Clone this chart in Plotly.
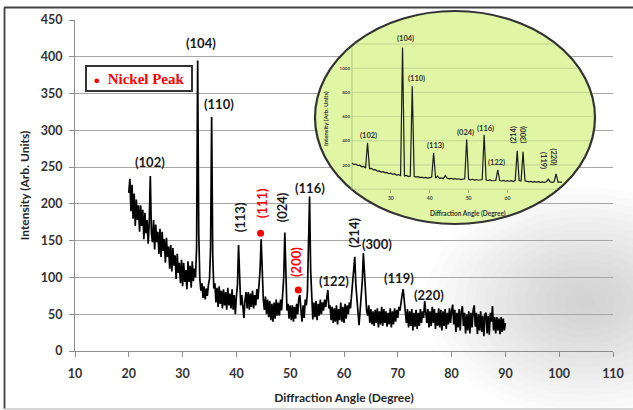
import math
import plotly.graph_objects as go

# ---------------- data ----------------
# main XRD scan: 2-theta from 20.0 to 90.0 deg in 0.2 deg steps
scan_start = 20.0
scan_step = 0.2
intensity = [
    215, 234, 190, 226, 180, 214, 170, 206, 178, 198,   # 20.0-21.8
    162, 198, 170, 192, 152, 188, 160, 178, 146, 174,   # 22.0-23.8
    238, 160, 148, 178, 138, 172, 148, 162, 132, 166,   # 24.0-25.8
    128, 162, 136, 152, 120, 154, 128, 142, 112, 144,   # 26.0-27.8
    108, 140, 116, 130, 98, 132, 106, 120, 92, 124,     # 28.0-29.8
    88, 120, 94, 110, 84, 122, 94, 116, 86, 122,        # 30.0-31.8
    95, 112, 100, 140, 395, 160, 98, 82, 92, 72,        # 32.0-33.8
    88, 70, 85, 75, 90, 98, 140, 318, 130, 85,          # 34.0-35.8
    92, 66, 86, 60, 88, 64, 82, 58, 84, 62,             # 36.0-37.8
    80, 56, 86, 62, 78, 58, 84, 56, 76, 50,             # 38.0-39.8
    74, 90, 144, 88, 62, 76, 56, 45, 70, 80,            # 40.0-41.8
    58, 80, 56, 78, 60, 82, 58, 76, 62, 84,             # 42.0-43.8
    70, 90, 110, 152, 95, 70, 56, 74, 50, 70,           # 44.0-45.8
    46, 68, 42, 64, 40, 66, 44, 70, 48, 66,             # 46.0-47.8
    48, 70, 55, 75, 100, 161, 85, 55, 64, 44,           # 48.0-49.8
    62, 42, 62, 40, 60, 44, 64, 50, 72, 76,             # 50.0-51.8
    55, 40, 62, 45, 70, 62, 80, 130, 210, 110,          # 52.0-53.8
    60, 43, 66, 46, 68, 42, 64, 48, 70, 50,             # 54.0-55.8
    66, 55, 70, 60, 72, 83, 58, 62, 42, 60,             # 56.0-57.8
    38, 58, 40, 62, 36, 57, 42, 66, 40, 60,             # 58.0-59.8
    38, 64, 44, 62, 50, 66, 58, 75, 95, 118,            # 60.0-61.8
    128, 90, 70, 50, 35, 55, 70, 95, 133, 100,          # 62.0-63.8
    72, 55, 48, 62, 38, 57, 36, 54, 34, 56,             # 64.0-65.8
    38, 58, 32, 54, 36, 60, 34, 57, 38, 54,             # 66.0-67.8
    33, 52, 36, 58, 32, 54, 36, 58, 40, 56,             # 68.0-69.8
    45, 60, 55, 68, 76, 84, 65, 52, 38, 57,             # 70.0-71.8
    32, 54, 34, 57, 28, 52, 33, 56, 30, 52,             # 72.0-73.8
    34, 57, 38, 54, 45, 68, 48, 38, 57, 32,             # 74.0-75.8
    54, 34, 60, 38, 57, 30, 52, 34, 58, 32,             # 76.0-77.8
    56, 28, 54, 34, 57, 30, 52, 36, 58, 38,             # 78.0-79.8
    55, 63, 36, 56, 26, 52, 32, 57, 28, 54,             # 80.0-81.8
    61, 34, 52, 24, 50, 28, 54, 24, 52, 32,             # 82.0-83.8
    55, 62, 33, 52, 23, 50, 28, 54, 26, 48,             # 84.0-85.8
    20, 50, 52, 24, 48, 22, 52, 40, 61, 28,             # 86.0-87.8
    46, 24, 46, 28, 44, 23, 46, 26, 44, 28,             # 88.0-89.8
    38,                                                 # 90.0
]
two_theta = [round(scan_start + i * scan_step, 1) for i in range(len(intensity))]

# nickel reflections marked with red dots
ni_angle = [44.5, 51.5]
ni_intensity = [160, 83]

# inset scan: 2-theta from 20.0 to 74.0 deg in 0.5 deg steps
inset_start = 20.0
inset_step = 0.5
inset_intensity = [
    215, 205, 208, 196, 198, 185, 188, 176, 383, 170,   # 20.0-24.5
    172, 160, 162, 150, 152, 142, 145, 135, 138, 128,   # 25.0-29.5
    132, 122, 126, 116, 120, 112, 1170, 110, 114, 104,  # 30.0-34.5
    108, 850, 106, 100, 104, 96, 100, 94, 98, 92,       # 35.0-39.5
    96, 100, 300, 92, 108, 90, 94, 88, 112, 90,         # 40.0-44.5
    86, 90, 84, 88, 82, 86, 80, 84, 86, 410,            # 45.0-49.5
    82, 78, 82, 76, 80, 74, 78, 80, 450, 76,            # 50.0-54.5
    72, 76, 70, 74, 72, 159, 72, 68, 72, 66,            # 55.0-59.5
    70, 66, 70, 64, 75, 318, 72, 68, 310, 70,           # 60.0-64.5
    64, 60, 64, 58, 62, 58, 62, 56, 60, 56,             # 65.0-69.5
    62, 82, 60, 56, 62, 126, 58, 56, 58,                # 70.0-74.0
]
inset_two_theta = [round(inset_start + i * inset_step, 1) for i in range(len(inset_intensity))]

# Miller-index labels
main_hkl = ["(102)", "(104)", "(110)", "(113)", "(111)", "(024)", "(200)",
            "(116)", "(122)", "(214)", "(300)", "(119)", "(220)"]
main_hkl_nickel = [False, False, False, False, True, False, True,
                   False, False, False, False, False, False]
inset_hkl = ["(102)", "(104)", "(110)", "(113)", "(024)", "(116)", "(122)",
             "(214)", "(300)", "(119)", "(220)"]

x_tick_vals = [10, 20, 30, 40, 50, 60, 70, 80, 90, 100, 110]
y_tick_vals = [0, 50, 100, 150, 200, 250, 300, 350, 400, 450]
inset_x_tick_vals = [30, 40, 50, 60]
inset_y_tick_vals = [200, 400, 600, 800, 1000]
inset_grid_vals = [0, 200, 400, 600, 800, 1000, 1200]

# ---------------- layout geometry (pixels) ----------------
W, H = 633, 410
ML, MR, MT, MB = 75, 20, 4, 59
PW = W - ML - MR
PH = H - MT - MB


def pxx(xp):
    return (xp - ML) / PW


def pxy(yp):
    return (H - MB - yp) / PH


# inset mapping: pixel <-> inset data
IX0, IXS = 352.0, 3.887     # x pixel of 20 deg, px per degree
IY0, IYS = 189.2, 0.121     # y pixel of 0 counts, px per count


def ix(xp):
    return 20 + (xp - IX0) / IXS


def iy(yp):
    return (IY0 - yp) / IYS


# ellipse bounding box (pixels)
EX0, EX1, EY0, EY1 = 315, 595, 11, 224
ECX, ECY = (EX0 + EX1) / 2, (EY0 + EY1) / 2
EA, EB = (EX1 - EX0) / 2, (EY1 - EY0) / 2
IN_L, IN_R, IN_T, IN_B = 309, 601, 5, 230   # inset subplot box

FONT = "Lato"
RED = "#ff0000"

fig = go.Figure()

fig.add_trace(go.Scatter(
    x=two_theta, y=intensity, mode="lines",
    line=dict(color="#000000", width=1.7),
    xaxis="x", yaxis="y", showlegend=False, hoverinfo="skip"))

fig.add_trace(go.Scatter(
    x=ni_angle, y=ni_intensity, mode="markers", name="Nickel Peak",
    marker=dict(color=RED, size=7), xaxis="x", yaxis="y",
    showlegend=False, hoverinfo="skip"))

fig.add_trace(go.Scatter(
    x=inset_two_theta, y=inset_intensity, mode="lines",
    line=dict(color="#1c1c1c", width=1.2),
    xaxis="x3", yaxis="y3", showlegend=False, hoverinfo="skip"))

shapes = []

# soft grey shadow at lower right
n_rings = 16
for k in range(n_rings):
    f = 1 - k / n_rings
    rx, ry = 160 * f, 115 * f
    cx, cy = 585, 302
    shapes.append(dict(type="circle", xref="paper", yref="paper", layer="below",
                       x0=pxx(cx - rx), x1=pxx(cx + rx), y0=pxy(cy + ry), y1=pxy(cy - ry),
                       fillcolor="#808080", opacity=0.028, line=dict(width=0)))

# outer frame
shapes.append(dict(type="line", xref="paper", yref="paper", layer="below",
                   x0=pxx(4), x1=pxx(640), y0=pxy(7.5), y1=pxy(7.5),
                   line=dict(color="#404040", width=1.8)))
shapes.append(dict(type="line", xref="paper", yref="paper", layer="below",
                   x0=pxx(4.5), x1=pxx(4.5), y0=pxy(7.5), y1=pxy(409),
                   line=dict(color="#404040", width=1.8)))
shapes.append(dict(type="line", xref="paper", yref="paper", layer="below",
                   x0=pxx(4), x1=pxx(640), y0=pxy(409), y1=pxy(409),
                   line=dict(color="#c8c8c8", width=1.5)))

# inset ellipse
shapes.append(dict(type="circle", xref="x3", yref="y3", layer="below",
                   x0=ix(EX0), x1=ix(EX1), y0=iy(EY1), y1=iy(EY0),
                   fillcolor="#e0f6a4", line=dict(color="#333333", width=2.2)))

# inset gridlines, kept inside the ellipse
x_right_px = IX0 + (82 - 20) * IXS
for v in inset_grid_vals:
    ypix = IY0 - v * IYS
    dy = (ypix - ECY) / EB
    if abs(dy) >= 1:
        continue
    half = EA * math.sqrt(1 - dy * dy)
    xl = max(IX0, ECX - half + 2)
    xr = min(x_right_px, ECX + half - 2)
    shapes.append(dict(type="line", xref="x3", yref="y3", layer="below",
                       x0=ix(xl), x1=ix(xr), y0=v, y1=v,
                       line=dict(color="#c2d590", width=1)))
# inset y axis line
dxe = (IX0 - ECX) / EA
ytop_px = ECY - EB * math.sqrt(1 - dxe * dxe) + 2
shapes.append(dict(type="line", xref="x3", yref="y3", layer="below",
                   x0=20, x1=20, y0=0, y1=iy(ytop_px),
                   line=dict(color="#b4c584", width=1)))

annotations = []

# main peak labels: (x deg, y counts, text angle)
main_label_pos = [
    (24.0, 257, 0), (33.4, 419, 0), (36.8, 336, 0), (40.7, 182, -90),
    (44.76, 201, -90), (48.5, 195.5, -90), (51.2, 120.6, -90), (53.67, 221.6, 0),
    (58.2, 95.4, 0), (61.8, 160.3, -90), (66.1, 145.8, 0), (70.2, 99, 0), (75.8, 76.3, 0),
]
for txt, ni, (lx, ly, ang) in zip(main_hkl, main_hkl_nickel, main_label_pos):
    annotations.append(dict(
        x=lx, y=ly, xref="x", yref="y", text=txt, showarrow=False, textangle=ang,
        xanchor="center", yanchor="middle",
        font=dict(family=FONT, size=13, color=RED if ni else "#1a1a1a", weight="bold")))

# inset labels: pixel positions
inset_label_px = [
    (368.3, 135, 0), (405, 38.3, 0), (416.7, 78.3, 0), (435, 145, 0), (465, 132.7, 0),
    (485, 128.3, 0), (496.7, 162.7, 0), (513.3, 135, -90), (523.3, 135, -90),
    (544, 160, 90), (553.3, 156.7, 90),
]
for txt, (lx, ly, ang) in zip(inset_hkl, inset_label_px):
    annotations.append(dict(
        x=ix(lx), y=iy(ly), xref="x3", yref="y3", text=txt, showarrow=False, textangle=ang,
        xanchor="center", yanchor="middle",
        font=dict(family=FONT, size=7.5, color="#303030", weight="bold")))

# inset axis titles
annotations.append(dict(x=ix(468), y=iy(213.5), xref="x3", yref="y3",
                        xanchor="center", yanchor="middle",
                        text="Diffraction Angle (Degree)", showarrow=False,
                        font=dict(family=FONT, size=6.5, color="#333333", weight="bold")))
annotations.append(dict(x=ix(325), y=iy(119), xref="x3", yref="y3", textangle=-90,
                        xanchor="center", yanchor="middle",
                        text="Intensity (Arb. Units)", showarrow=False,
                        font=dict(family=FONT, size=6, color="#333333", weight="bold")))

# legend box
annotations.append(dict(
    x=pxx(139), y=pxy(78.5), xref="paper", yref="paper", showarrow=False,
    xanchor="center", yanchor="middle",
    text='<span style="font-size:11px">●</span>  Nickel Peak',
    width=98, height=17, borderpad=3, borderwidth=2, bordercolor="#333333",
    bgcolor="#ffffff", align="center",
    font=dict(family="Liberation Serif", size=15, color=RED, weight="bold")))

fig.update_layout(
    width=W, height=H,
    margin=dict(l=ML, r=MR, t=MT, b=MB, pad=0),
    paper_bgcolor="#ffffff", plot_bgcolor="rgba(0,0,0,0)",
    template="none", showlegend=False, hovermode=False,
    shapes=shapes, annotations=annotations,
    xaxis=dict(
        domain=[0, 1], range=[10, 110], tickvals=x_tick_vals, anchor="y",
        showgrid=False, zeroline=False, showline=True, linecolor="#8c8c8c", linewidth=1,
        ticks="outside", ticklen=5, tickcolor="#8c8c8c", ticklabelstandoff=6,
        tickfont=dict(family=FONT, size=12.5, color="#333333", weight="bold"),
        title=dict(text="Diffraction Angle (Degree)", standoff=13,
                   font=dict(family=FONT, size=12, color="#262626", weight="bold"))),
    yaxis=dict(
        domain=[0, pxy(20)], range=[0, 450], tickvals=y_tick_vals, anchor="x",
        showgrid=True, gridcolor="#a6a6a6", gridwidth=1, zeroline=False,
        showline=True, linecolor="#8c8c8c", linewidth=1,
        ticks="outside", ticklen=5, tickcolor="#8c8c8c", ticklabelstandoff=4,
        tickfont=dict(family=FONT, size=12.5, color="#333333", weight="bold"),
        title=dict(text="Intensity (Arb. Units)", standoff=8,
                   font=dict(family=FONT, size=12, color="#262626", weight="bold"))),
    xaxis3=dict(
        domain=[pxx(IN_L), pxx(IN_R)], range=[ix(IN_L), ix(IN_R)],
        anchor="free", position=pxy(IY0), tickvals=inset_x_tick_vals,
        showgrid=False, zeroline=False, showline=False,
        ticks="outside", ticklen=3, tickcolor="#9aab6e", ticklabelstandoff=1,
        tickfont=dict(family=FONT, size=5, color="#444444", weight="bold")),
    yaxis3=dict(
        domain=[pxy(IN_B), pxy(IN_T)], range=[iy(IN_B), iy(IN_T)],
        anchor="free", position=pxx(IX0), tickvals=inset_y_tick_vals,
        showgrid=False, zeroline=False, showline=False, ticks="",
        ticklabelstandoff=2,
        tickfont=dict(family=FONT, size=4.5, color="#444444", weight="bold")),
)

# remove the browser's default page margin so the 633x410 figure fills the window
fig.write_html(
    "out.html",
    config={"displayModeBar": False, "staticPlot": True},
    post_script="document.body.style.margin='0';document.body.style.overflow='hidden';",
)
